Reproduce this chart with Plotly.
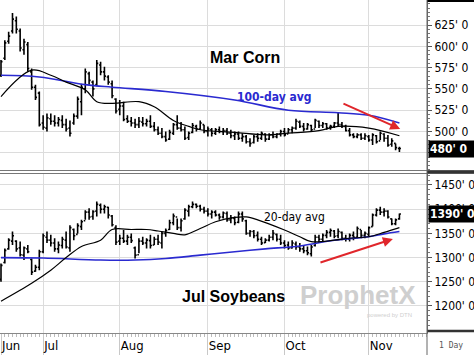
import plotly.graph_objects as go

# ---------------- data ----------------
month_labels = ["Jun", "Jul", "Aug", "Sep", "Oct", "Nov"]
month_start_idx = [0, 11, 31, 54, 74, 96]
day_idx = list(range(105))

corn_high = [584,607,617,639,635,621,609,605,574,555,547,519,521,521,519,517,519,515,513,521,
             541,556,574,570,560,584,582,576,566,560,539,537,535,519,517,515,517,517,515,519,
             511,506,504,500,502,510,519,511,506,500,510,508,513,508,506,504,504,506,504,504,
             502,500,500,498,496,492,496,498,500,498,498,500,498,502,504,504,506,515,513,510,
             510,508,515,513,511,510,508,511,523,511,508,504,498,498,498,498,496,498,496,500,
             498,496,492,486,482]
corn_low = [564,584,603,615,615,594,590,570,549,537,506,502,500,508,506,506,504,500,494,508,
            515,519,545,555,541,553,566,560,555,539,521,519,512,510,506,504,504,506,506,504,
            500,496,492,488,490,496,502,500,490,490,498,500,502,498,494,494,496,498,496,496,
            492,490,490,488,486,482,486,488,490,488,490,492,492,494,494,498,498,502,504,500,
            502,500,504,504,504,502,502,504,506,504,500,494,492,492,490,490,488,484,486,490,
            488,482,482,478,476]
corn_open = [566,586,606,618,630,618,596,602,570,552,545,510,504,515,512,510,513,508,504,510,
             518,535,550,568,558,555,578,570,564,556,538,526,530,515,512,510,508,511,509,512,
             506,502,498,494,491,498,508,504,502,493,499,506,503,508,500,502,498,502,500,501,
             498,495,497,492,494,488,487,494,492,497,491,496,494,497,500,497,502,504,511,506,
             503,507,503,512,507,509,505,506,510,508,506,501,496,494,496,492,494,490,495,489,
             497,492,485,486,480]
corn_close = [582,604,612,632,620,598,605,574,552,540,508,505,516,512,510,514,508,503,498,518,
              538,552,570,560,550,580,570,565,558,542,524,530,514,512,510,508,512,509,512,506,
              502,498,494,490,499,508,504,502,492,498,507,503,510,500,503,498,502,500,501,498,
              495,497,492,494,488,486,494,492,498,491,496,494,497,500,496,502,504,512,506,503,
              508,502,513,507,509,504,506,510,508,506,501,496,494,496,492,495,490,496,488,498,
              492,484,489,481,480]

soy_high = [1288,1319,1340,1354,1336,1333,1323,1326,1298,1285,1316,1350,1354,1347,1340,1333,1343,1354,1367,1360,
            1371,1378,1398,1402,1398,1416,1412,1409,1405,1388,1367,1347,1357,1347,1350,1323,1340,1343,1340,1347,
            1343,1347,1354,1360,1378,1391,1381,1381,1402,1409,1416,1412,1409,1405,1402,1398,1398,1391,1395,1395,
            1388,1385,1395,1395,1378,1357,1357,1354,1343,1340,1347,1357,1350,1347,1336,1333,1336,1333,1330,1326,
            1323,1326,1347,1347,1350,1357,1360,1357,1360,1354,1347,1350,1354,1364,1357,1354,1364,1391,1402,1405,
            1402,1398,1381,1381,1391]
soy_low = [1250,1288,1316,1326,1312,1302,1295,1309,1264,1271,1274,1309,1330,1323,1312,1309,1319,1319,1312,1336,
           1350,1357,1378,1378,1378,1385,1391,1391,1381,1364,1326,1326,1330,1326,1330,1298,1309,1326,1319,1319,
           1326,1326,1319,1343,1357,1367,1357,1354,1378,1385,1402,1402,1395,1391,1385,1381,1385,1378,1381,1374,
           1371,1367,1371,1374,1347,1343,1340,1333,1326,1330,1333,1336,1333,1326,1319,1316,1319,1316,1312,1309,
           1305,1302,1323,1330,1333,1340,1343,1340,1340,1336,1333,1333,1336,1340,1340,1340,1343,1364,1385,1388,
           1385,1381,1367,1367,1378]
soy_open = [1255,1290,1318,1334,1334,1320,1305,1318,1296,1272,1280,1312,1342,1336,1330,1318,1325,1336,1320,1358,
            1348,1364,1376,1394,1385,1396,1408,1400,1404,1386,1362,1334,1340,1334,1342,1320,1306,1334,1330,1335,
            1326,1338,1330,1350,1358,1372,1384,1362,1380,1396,1405,1410,1406,1400,1396,1390,1394,1388,1384,1391,
            1378,1381,1373,1390,1376,1350,1354,1346,1338,1331,1336,1342,1348,1338,1330,1326,1320,1328,1322,1318,
            1314,1308,1325,1342,1338,1346,1352,1355,1345,1352,1340,1338,1346,1342,1358,1346,1348,1364,1388,1398,
            1394,1396,1380,1370,1380]
soy_close = [1284,1315,1336,1345,1318,1306,1320,1312,1270,1280,1312,1345,1336,1330,1318,1326,1338,1322,1362,1345,
             1366,1374,1394,1384,1395,1410,1400,1405,1388,1368,1332,1340,1334,1342,1335,1305,1334,1330,1336,1325,
             1338,1332,1350,1356,1372,1386,1362,1376,1398,1405,1410,1406,1400,1396,1390,1394,1388,1384,1392,1378,
             1382,1372,1390,1380,1350,1354,1345,1338,1330,1336,1342,1350,1338,1330,1325,1320,1330,1322,1318,1314,
             1310,1322,1342,1338,1346,1352,1356,1344,1354,1340,1338,1346,1342,1360,1346,1350,1362,1388,1398,1394,
             1396,1384,1370,1378,1390]

corn_ma100_idx = [0, 10, 22, 29, 43, 61, 75, 88, 96, 104]
corn_ma100 = [566, 564, 555, 552, 547, 537, 525, 522, 519, 510]
corn_ma20_idx = [0, 8, 13, 17, 22, 25, 29, 36, 40, 45, 49, 52, 61, 69, 75, 83, 88, 96, 104]
corn_ma20 = [541, 572, 566, 558, 549, 535, 533, 535, 529, 513, 506, 502, 499, 496, 498, 501, 506, 504, 495]

soy_ma100_idx = [0, 11, 26, 35, 43, 52, 61, 69, 78, 87, 96, 100, 104]
soy_ma100 = [1300, 1299, 1295, 1295, 1298, 1305, 1312, 1318, 1324, 1336, 1343, 1349, 1354]
soy_ma20_idx = [0, 8, 13, 17, 21, 26, 29, 34, 38, 41, 45, 48, 52, 56, 61, 64, 67, 74, 78, 81, 87, 91, 96, 100, 104]
soy_ma20 = [1210, 1247, 1274, 1300, 1323, 1336, 1358, 1358, 1358, 1355, 1350, 1347, 1360, 1374, 1383, 1384, 1378,
            1357, 1343, 1333, 1336, 1340, 1343, 1352, 1362]

corn_ticks = [475, 500, 525, 550, 575, 600, 625]
corn_ticktext = ["475' 0", "500' 0", "525' 0", "550' 0", "575' 0", "600' 0", "625' 0"]
soy_ticks = [1200, 1250, 1300, 1350, 1400, 1450]
soy_ticktext = ["1200' 0", "1250' 0", "1300' 0", "1350' 0", "1400' 0", "1450' 0"]

corn_last, corn_last_text = 480, "480' 0"
soy_last, soy_last_text = 1390, "1390' 0"

# ---------------- figure ----------------
NARROW = "Liberation Sans Narrow, Arial Narrow, DejaVu Sans Condensed, Liberation Sans, sans-serif"
BOLD = "Liberation Sans, Arial, sans-serif"
GRID = "#dcdcdc"
BLUE = "#2a2ad0"

fig = go.Figure()
bar_style = dict(line=dict(color="black", width=1.6))
fig.add_trace(go.Ohlc(x=day_idx, open=corn_open, high=corn_high, low=corn_low, close=corn_close,
                      increasing=bar_style, decreasing=bar_style, tickwidth=0.4,
                      xaxis="x", yaxis="y", showlegend=False, hoverinfo="skip"))
fig.add_trace(go.Scatter(x=corn_ma100_idx, y=corn_ma100, mode="lines", line=dict(color=BLUE, width=1.6, shape="spline"),
                         xaxis="x", yaxis="y", showlegend=False, hoverinfo="skip"))
fig.add_trace(go.Scatter(x=corn_ma20_idx, y=corn_ma20, mode="lines", line=dict(color="black", width=1.2, shape="spline"),
                         xaxis="x", yaxis="y", showlegend=False, hoverinfo="skip"))

fig.add_trace(go.Ohlc(x=day_idx, open=soy_open, high=soy_high, low=soy_low, close=soy_close,
                      increasing=bar_style, decreasing=bar_style, tickwidth=0.4,
                      xaxis="x2", yaxis="y2", showlegend=False, hoverinfo="skip"))
fig.add_trace(go.Scatter(x=soy_ma100_idx, y=soy_ma100, mode="lines", line=dict(color=BLUE, width=1.6, shape="spline"),
                         xaxis="x2", yaxis="y2", showlegend=False, hoverinfo="skip"))
fig.add_trace(go.Scatter(x=soy_ma20_idx, y=soy_ma20, mode="lines", line=dict(color="black", width=1.2, shape="spline"),
                         xaxis="x2", yaxis="y2", showlegend=False, hoverinfo="skip"))

xrange = [-0.26, 111.2]
common_x = dict(range=xrange, tickvals=month_start_idx, showgrid=True, gridcolor=GRID, gridwidth=1,
                zeroline=False, rangeslider=dict(visible=False), fixedrange=True, automargin=False)
yfont = dict(family=NARROW, size=12, color="black")
common_y = dict(side="right", showgrid=True, gridcolor=GRID, zeroline=False, ticks="outside", ticklen=4,
                tickcolor="#555", showline=True, linecolor="#666", linewidth=1, tickfont=yfont, automargin=False,
                fixedrange=True, minor=dict(ticks="outside", ticklen=2, tickcolor="#777", showgrid=False))

fig.update_layout(
    width=474, height=355, margin=dict(l=0, r=47, t=0, b=22, autoexpand=False),
    paper_bgcolor="white", plot_bgcolor="white", showlegend=False,
    xaxis=dict(common_x, anchor="y", showticklabels=False, ticks=""),
    xaxis2=dict(common_x, anchor="y2", matches="x", ticktext=month_labels, ticks="outside", ticklen=22,
                tickcolor="#c8c8c8", ticklabelposition="outside right", ticklabelstandoff=0,
                tickfont=dict(family=NARROW, size=13, color="black"),
                showline=True, linecolor="#888", linewidth=1,
                minor=dict(ticks="outside", ticklen=3, tickcolor="#bbb", dtick=1, showgrid=False)),
    yaxis=dict(common_y, domain=[1 - 171 / 333, 1], range=[453.6, 654.4], tickvals=corn_ticks,
               ticktext=corn_ticktext, minor=dict(common_y["minor"], dtick=5)),
    yaxis2=dict(common_y, domain=[0, 1 - 174 / 333], range=[1144.2, 1472.7], tickvals=soy_ticks,
                ticktext=soy_ticktext, minor=dict(common_y["minor"], dtick=10)),
)

XR = 474 / 427
shapes = [
    dict(type="line", xref="paper", yref="paper", x0=1, x1=XR, y0=1, y1=1, line=dict(color="black", width=4)),
    dict(type="line", xref="paper", yref="paper", x0=0, x1=XR, y0=1 - 170.5 / 333, y1=1 - 170.5 / 333,
         line=dict(color="#777", width=1)),
    dict(type="line", xref="paper", yref="paper", x0=0, x1=XR, y0=1 - 173.5 / 333, y1=1 - 173.5 / 333,
         line=dict(color="#777", width=1)),
    dict(type="line", xref="paper", yref="paper", x0=1, x1=XR, y0=1 - 172 / 333, y1=1 - 172 / 333,
         line=dict(color="#333", width=3)),
    dict(type="line", xref="paper", yref="paper", x0=1, x1=XR, y0=1 - 331 / 333, y1=1 - 331 / 333,
         line=dict(color="#333", width=2.5)),
    dict(type="line", xref="paper", yref="paper", x0=1, x1=1, y0=-22 / 333, y1=1, line=dict(color="#666", width=1)),
]
fig.update_layout(shapes=shapes)


def label(text, px, py, size, color, family=BOLD, xanchor="center"):
    return dict(text=text, x=px / 427, y=1 - py / 333, xref="paper", yref="paper", showarrow=False,
                xanchor=xanchor, yanchor="middle", font=dict(family=family, size=size, color=color))


annotations = [
    label("<b>Mar Corn</b>", 245, 57, 16, "black"),
    label("<b>Jul Soybeans</b>", 233, 296, 16, "black"),
    label("<b>100-day avg</b>", 274, 97, 12, BLUE, NARROW),
    label("20-day avg", 294, 217, 12, "black", NARROW),
    label("<b>ProphetX</b>", 358, 295, 26, "#cfcfcf"),
    label("powered by DTN", 414, 315, 6, "#cfcfcf", BOLD, "right"),
    label("1 Day", 451, 345, 8, "#555", "DejaVu Sans Mono, monospace"),
    # price boxes
    dict(text="<b>" + corn_last_text + "</b>", x=1.003, y=corn_last, xref="paper", yref="y", xanchor="left",
         yanchor="middle", showarrow=False, bgcolor="black", width=44, height=14, align="left",
         font=dict(family=NARROW, size=12, color="white")),
    dict(text="<b>" + soy_last_text + "</b>", x=1.003, y=soy_last, xref="paper", yref="y2", xanchor="left",
         yanchor="middle", showarrow=False, bgcolor="black", width=44, height=14, align="left",
         font=dict(family=NARROW, size=12, color="white")),
    # red trend arrows
    dict(x=104.2, y=503, ax=89, ay=533.4, xref="x", yref="y", axref="x", ayref="y", text="",
         showarrow=True, arrowhead=2, arrowsize=1, arrowwidth=2, arrowcolor="#e0262b"),
    dict(x=102.3, y=1338.4, ax=83, ay=1289, xref="x2", yref="y2", axref="x2", ayref="y2", text="",
         showarrow=True, arrowhead=2, arrowsize=1, arrowwidth=2, arrowcolor="#e0262b"),
]
fig.update_layout(annotations=annotations)

fig.write_html("out.html", config={"displayModeBar": False, "staticPlot": True},
               post_script="document.body.style.margin='0';")
